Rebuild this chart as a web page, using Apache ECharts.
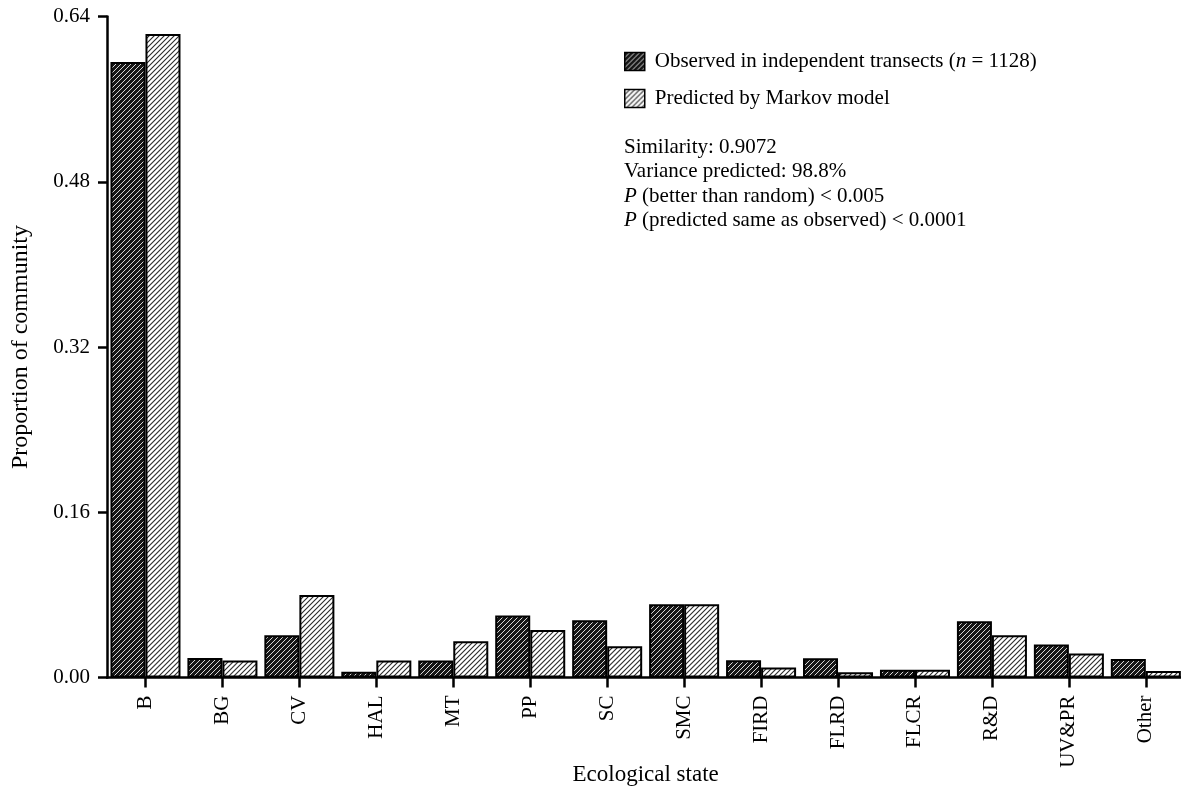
<!DOCTYPE html>
<html><head><meta charset="utf-8">
<script src="https://cdn.jsdelivr.net/npm/echarts@6/dist/echarts.min.js"></script>
<style>html,body{margin:0;padding:0;background:#fff;overflow:hidden}#c{width:1181px;height:793px}</style>
</head><body><div id="c"></div>
<script>
const categories = ['B','BG','CV','HAL','MT','PP','SC','SMC','FIRD','FLRD','FLCR','R&D','UV&PR','Other'];
const observed  = [0.596,0.019,0.041,0.0055,0.0165,0.060,0.0555,0.071,0.0168,0.0187,0.0074,0.0545,0.032,0.018];
const predicted = [0.623,0.0165,0.080,0.0165,0.035,0.046,0.0303,0.071,0.0097,0.0051,0.0074,0.041,0.0232,0.0064];
const yTickLabels = ['0.00','0.16','0.32','0.48','0.64'];
const seriesNames = ['Observed in independent transects (n = 1128)','Predicted by Markov model'];
const statLines = ['Similarity: 0.9072','Variance predicted: 98.8%','(better than random) < 0.005','(predicted same as observed) < 0.0001'];

function hatch(bg, fg, lw) {
  const s = 5;
  const c = document.createElement('canvas');
  c.width = s; c.height = s;
  const g = c.getContext('2d');
  g.fillStyle = bg; g.fillRect(0,0,s,s);
  g.strokeStyle = fg; g.lineWidth = lw;
  g.beginPath();
  g.moveTo(-1, s+1); g.lineTo(s+1, -1);
  g.moveTo(-1, 1); g.lineTo(1, -1);
  g.moveTo(s-1, s+1); g.lineTo(s+1, s-1);
  g.stroke();
  return c;
}
const darkPat = {image: hatch('#161616', '#d8d8d8', 1), repeat: 'repeat'};
const lightPat = {image: hatch('#ffffff', '#2a2a2a', 1.1), repeat: 'repeat'};

const FONT = 'Liberation Serif';
const chart = echarts.init(document.getElementById('c'), null, {renderer: 'canvas'});
chart.setOption({
  animation: false,
  backgroundColor: '#fff',
  textStyle: {fontFamily: FONT, color: '#000'},
  grid: {left: 107, right: -3.3, top: 16.5, bottom: 115.5, containLabel: false, outerBoundsMode: 'none'},
  title: {
    left: 624, top: 135, padding: 0,
    text: statLines[0] + '\n' + statLines[1] + '\n{i|P} ' + statLines[2] + '\n{i|P} ' + statLines[3],
    textStyle: {fontFamily: FONT, fontSize: 21, fontWeight: 'normal', color: '#000', lineHeight: 24.4,
      rich: {i: {fontFamily: FONT, fontSize: 21, fontStyle: 'italic', color: '#000', lineHeight: 24.4}}}
  },
  legend: {
    orient: 'vertical', left: 624, top: 51, padding: 0, itemWidth: 20, itemHeight: 18, itemGap: 16,
    icon: 'rect',
    data: seriesNames,
    formatter: function (n) { return n.replace('(n = 1128)', '({i|n} = 1128)'); },
    textStyle: {fontFamily: FONT, fontSize: 21, color: '#000', padding: [0,0,0,5],
      rich: {i: {fontFamily: FONT, fontSize: 21, fontStyle: 'italic', color: '#000'}}},
    itemStyle: {borderColor: '#000', borderWidth: 1.5}
  },
  xAxis: {
    type: 'category', data: categories,
    name: 'Ecological state', nameLocation: 'middle', nameGap: 86, nameMoveOverlap: false,
    nameTextStyle: {fontFamily: FONT, fontSize: 23, color: '#000'},
    axisLine: {lineStyle: {color: '#000', width: 2.5}},
    axisTick: {show: true, alignWithLabel: true, length: 10, lineStyle: {color: '#000', width: 2.5}},
    axisLabel: {rotate: 90, margin: 18, fontFamily: FONT, fontSize: 21, color: '#000', interval: 0},
    splitLine: {show: false}
  },
  yAxis: {
    type: 'value', min: 0, max: 0.64, interval: 0.16,
    name: 'Proportion of community', nameLocation: 'middle', nameGap: 74, nameMoveOverlap: false,
    nameTextStyle: {fontFamily: FONT, fontSize: 24, color: '#000'},
    axisLine: {show: true, lineStyle: {color: '#000', width: 2.5}},
    axisTick: {show: true, length: 9, lineStyle: {color: '#000', width: 2.5}},
    axisLabel: {margin: 17, fontFamily: FONT, fontSize: 21, color: '#000',
      formatter: function (v) { return yTickLabels[Math.round(v / 0.16)]; }},
    splitLine: {show: false}
  },
  series: [
    {name: seriesNames[0], type: 'bar', data: observed, barGap: '0%', barCategoryGap: '9%',
      itemStyle: {color: darkPat, borderColor: '#000', borderWidth: 2}},
    {name: seriesNames[1], type: 'bar', data: predicted, barGap: '0%', barCategoryGap: '9%',
      itemStyle: {color: lightPat, borderColor: '#000', borderWidth: 2}}
  ]
});
</script></body></html>
